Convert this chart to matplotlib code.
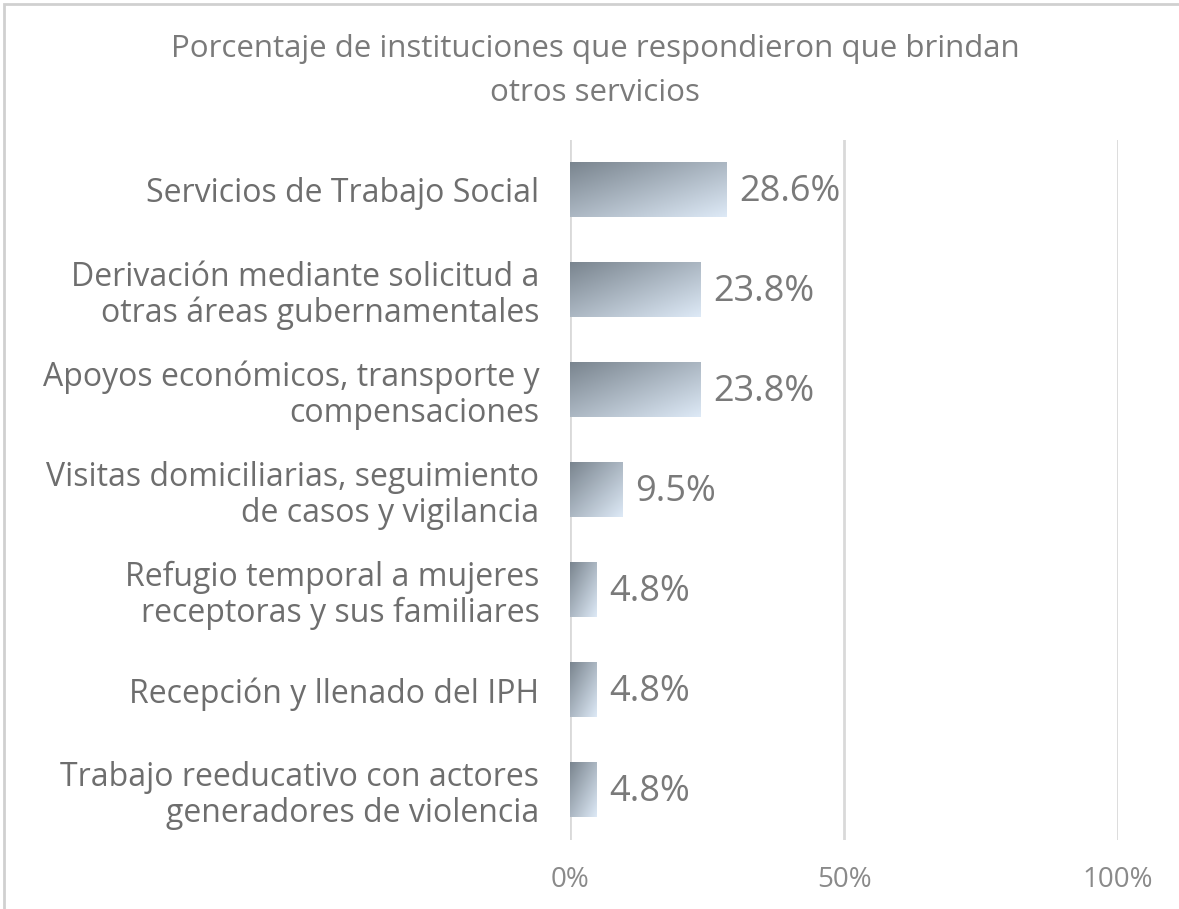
import numpy as np
import matplotlib.pyplot as plt
from matplotlib.patches import Rectangle
from matplotlib.colors import LinearSegmentedColormap

plt.rcParams['font.family'] = ['Open Sans', 'DejaVu Sans']

categorias = ['Servicios de Trabajo Social',
              'Derivación mediante solicitud a\notras áreas gubernamentales',
              'Apoyos económicos, transporte y\ncompensaciones',
              'Visitas domiciliarias, seguimiento\nde casos y vigilancia',
              'Refugio temporal a mujeres\nreceptoras y sus familiares',
              'Recepción y llenado del IPH',
              'Trabajo reeducativo con actores\ngeneradores de violencia']
valores = [28.6, 23.8, 23.8, 9.5, 4.8, 4.8, 4.8]
ticks = [0, 50, 100]
tick_labels = ['0%', '50%', '100%']

fig = plt.figure(figsize=(11.79, 9.09), dpi=100)
ax = fig.add_axes([0.4835, 0.076, 0.4648, 0.770])

# marco de la figura
fig.patches.append(Rectangle((0.003, -0.01), 1.1, 1.006, transform=fig.transFigure,
                             fill=False, edgecolor='#d0d0d0', linewidth=2))

cmap = LinearSegmentedColormap.from_list('grad', ['#7a858f', '#dde9f6'])
grad = np.add.outer(np.linspace(0, 1, 50), np.linspace(0, 1, 100)) / 2

y = np.arange(len(categorias))
alto = 0.55

for i, v in enumerate(valores):
    bar = ax.barh(y[i], v, height=alto, color='none', edgecolor='none')[0]
    im = ax.imshow(grad, cmap=cmap, aspect='auto', interpolation='bilinear',
                   extent=(0, v, y[i] + alto / 2, y[i] - alto / 2), zorder=2)
    im.set_clip_path(bar)
    ax.text(v + 2.3, y[i] + 0.02, f'{v:.1f}%', va='center', ha='left',
            fontsize=26, color='#7a7a7a')

ax.set_ylim(len(categorias) - 0.5, -0.5)
ax.set_xlim(0, 100)
ax.set_yticks(y)
ax.set_yticklabels(categorias, fontsize=23, color='#6e6e6e', linespacing=1.12)
ax.set_xticks(ticks)
ax.set_xticklabels(tick_labels, fontsize=20, color='#8a8a8a')
ax.tick_params(axis='both', length=0)
ax.tick_params(axis='y', pad=22)
ax.tick_params(axis='x', pad=19)
ax.grid(axis='x', color='#d9d9d9', linewidth=2)
ax.set_axisbelow(True)
for s in ax.spines.values():
    s.set_visible(False)

fig.text(0.505, 0.922, 'Porcentaje de instituciones que respondieron que brindan\notros servicios',
         ha='center', va='center', fontsize=22.5, color='#7a7a7a', linespacing=1.6)

fig.savefig('out.png', dpi=100)
